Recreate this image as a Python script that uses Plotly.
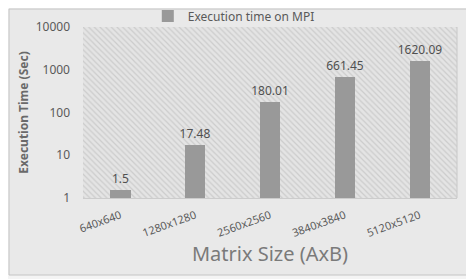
import plotly.graph_objects as go

categories = ["640x640", "1280x1280", "2560x2560", "3840x3840", "5120x5120"]
exec_time = [1.5, 17.48, 180.01, 661.45, 1620.09]
label_text = ["1.5", "17.48", "180.01", "661.45", "1620.09"]
y_ticks = [1, 10, 100, 1000, 10000]

x_pos = list(range(len(categories)))
font_family = "Noto Sans, Liberation Sans, sans-serif"

fig = go.Figure()

# decorative hatched plot-area background
fig.add_trace(go.Bar(
    x=x_pos, y=[y_ticks[-1]] * len(x_pos), width=1.0,
    marker=dict(color="#e2e2e2", line=dict(width=0),
                pattern=dict(shape="\\", fgcolor="#b4b4b4", bgcolor="#e4e4e4",
                             size=4, solidity=0.3)),
    showlegend=False, hoverinfo="skip",
))

fig.add_trace(go.Bar(
    x=x_pos, y=exec_time, width=0.27,
    name="Execution time on MPI",
    marker=dict(color="#999999", line=dict(width=0)),
    text=label_text, textposition="outside", cliponaxis=False,
    constraintext="none",
    textfont=dict(size=12, color="#505050", family=font_family),
))

# page body has an 8px margin, so the figure is sized to the remaining area
fig.update_layout(
    width=466, height=271,
    margin=dict(l=75, r=17, t=19, b=81, autoexpand=False),
    paper_bgcolor="#f4f4f4", plot_bgcolor="#e4e4e4",
    barmode="overlay", bargap=0,
    font=dict(family=font_family, color="#595959"),
    showlegend=True,
    legend=dict(orientation="h", xref="container", yref="container",
                x=0.30, xanchor="left", y=1 - 8 / 271, yanchor="middle",
                font=dict(size=12, color="#595959"), bgcolor="rgba(0,0,0,0)",
                itemwidth=30, tracegroupgap=0),
    shapes=[dict(type="rect", xref="paper", yref="paper",
                 x0=-74/374, x1=1 + 11/374, y0=-77/171, y1=1 + 18/171,
                 line=dict(color="#c4c4c4", width=1), fillcolor="#e9e9e9", layer="below")],
)

fig.update_xaxes(
    range=[-0.5, 4.5], tickmode="array", tickvals=x_pos, ticktext=categories,
    tickangle=-20, tickfont=dict(size=11, color="#595959"),
    showgrid=False, zeroline=False, showline=True, linecolor="#cccccc",
    ticks="", ticklabelstandoff=6, automargin=False,
    minor=dict(tickvals=[0.5, 1.5, 2.5, 3.5], showgrid=True, gridcolor="#c8c8c8", gridwidth=1),
    title=dict(text="Matrix Size (AxB)", font=dict(size=20, color="#7a7a7a"), standoff=4),
)
fig.update_yaxes(
    type="log", range=[0, 4], tickmode="array", tickvals=y_ticks,
    ticktext=[str(v) for v in y_ticks],
    tickfont=dict(size=12, color="#595959"),
    showgrid=True, gridcolor="#c8c8c8", gridwidth=1, zeroline=False,
    showline=False, ticks="", ticklabelstandoff=12, automargin=False,
    title=dict(text="<b>Execution Time (Sec)</b>", font=dict(size=12, color="#6a6a6a"), standoff=4),
)
fig.add_shape(type="line", xref="paper", yref="paper", x0=1, x1=1, y0=0, y1=1,
              line=dict(color="#c8c8c8", width=1))

fig.write_html("out.html")
